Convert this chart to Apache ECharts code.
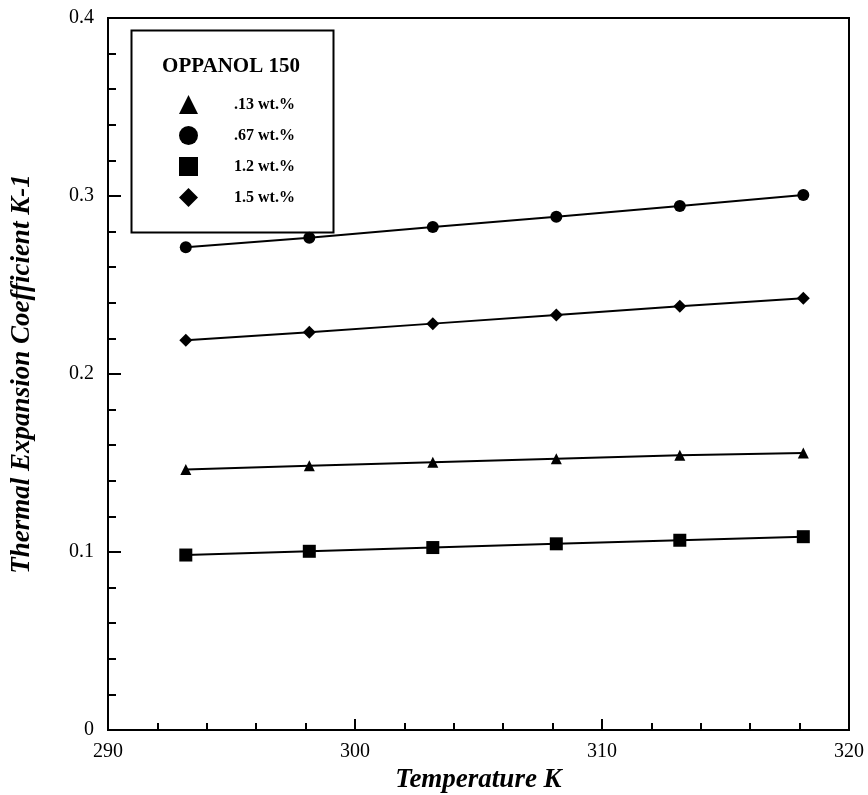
<!DOCTYPE html>
<html>
<head>
<meta charset="utf-8">
<script src="https://cdn.jsdelivr.net/npm/echarts@6/dist/echarts.min.js"></script>
<style>
  html, body { margin: 0; padding: 0; background: #fff; }
  #chart { width: 868px; height: 795px; }
</style>
</head>
<body>
<div id="chart"></div>
<script>
const temperatures = [293.15, 298.15, 303.15, 308.15, 313.15, 318.15]

const seriesNames = ['.13 wt.%', '.67 wt.%', '1.2 wt.%', '1.5 wt.%']
const wt013 = [0.1464, 0.1484, 0.1504, 0.1524, 0.1544, 0.1556]
const wt067 = [0.2712, 0.2766, 0.2826, 0.2884, 0.2944, 0.3006]
const wt12 = [0.0983, 0.1004, 0.1025, 0.1046, 0.1066, 0.1086]
const wt15 = [0.2189, 0.2235, 0.2283, 0.2332, 0.2380, 0.2425]

const legendTitle = 'OPPANOL 150'
const xName = 'Temperature K'
const yName = 'Thermal Expansion Coefficient K-1'

const FONT = '"Liberation Serif", "Times New Roman", serif'

function pairs(ys) {
  return temperatures.map((t, i) => [t, ys[i]])
}

function makeSeries(name, ys, symbol, size) {
  return {
    name: name,
    type: 'line',
    data: pairs(ys),
    symbol: symbol,
    symbolSize: size,
    lineStyle: { color: '#000', width: 2 },
    itemStyle: { color: '#000' },
    animation: false
  }
}

const chart = echarts.init(document.getElementById('chart'))

const option = {
  backgroundColor: '#fff',
  animation: false,
  grid: {
    left: 108, right: 19, top: 18, bottom: 65,
    outerBoundsMode: 'none',
    show: true, borderColor: '#000', borderWidth: 2
  },
  legend: {
    orient: 'vertical',
    left: 174, top: 90,
    itemWidth: 19, itemHeight: 19, itemGap: 12,
    selectedMode: false,
    textStyle: { fontFamily: FONT, fontWeight: 'bold', fontSize: 16, color: '#000', padding: [0, 0, 0, 31] },
    data: [
      { name: seriesNames[0], icon: 'triangle' },
      { name: seriesNames[1], icon: 'circle' },
      { name: seriesNames[2], icon: 'rect' },
      { name: seriesNames[3], icon: 'diamond' }
    ]
  },
  graphic: [
    {
      type: 'rect', left: 129, top: 28, z: 10,
      shape: { width: 202, height: 202 },
      style: { fill: 'none', stroke: '#000', lineWidth: 2 }
    },
    {
      type: 'text', x: 231, y: 67, z: 10,
      style: { text: legendTitle, font: 'bold 21px ' + FONT, fill: '#000', align: 'center', verticalAlign: 'middle' }
    }
  ],
  xAxis: {
    type: 'value', min: 290, max: 320, interval: 10,
    name: xName, nameLocation: 'middle', nameGap: 37,
    nameTextStyle: { fontFamily: FONT, fontStyle: 'italic', fontWeight: 'bold', fontSize: 27, color: '#000' },
    axisLine: { lineStyle: { color: '#000', width: 2 } },
    axisTick: { inside: true, length: 11, lineStyle: { color: '#000', width: 2 } },
    minorTick: { show: true, splitNumber: 5, length: 7, lineStyle: { color: '#000', width: 2 } },
    axisLabel: { fontFamily: FONT, fontSize: 20, color: '#000', margin: 12 },
    splitLine: { show: false }
  },
  yAxis: {
    type: 'value', min: 0, max: 0.4, interval: 0.1,
    name: yName, nameLocation: 'middle', nameGap: 72,
    nameTextStyle: { fontFamily: FONT, fontStyle: 'italic', fontWeight: 'bold', fontSize: 27, color: '#000' },
    axisLine: { lineStyle: { color: '#000', width: 2 } },
    axisTick: { inside: true, length: 13, lineStyle: { color: '#000', width: 2 } },
    minorTick: { show: true, splitNumber: 5, length: 8, lineStyle: { color: '#000', width: 2 } },
    axisLabel: { fontFamily: FONT, fontSize: 20, color: '#000', margin: 14 },
    splitLine: { show: false }
  },
  series: [
    makeSeries(seriesNames[0], wt013, 'triangle', 11),
    makeSeries(seriesNames[1], wt067, 'circle', 12),
    makeSeries(seriesNames[2], wt12, 'rect', 13),
    makeSeries(seriesNames[3], wt15, 'diamond', 13)
  ]
}

chart.setOption(option)
</script>
</body>
</html>
